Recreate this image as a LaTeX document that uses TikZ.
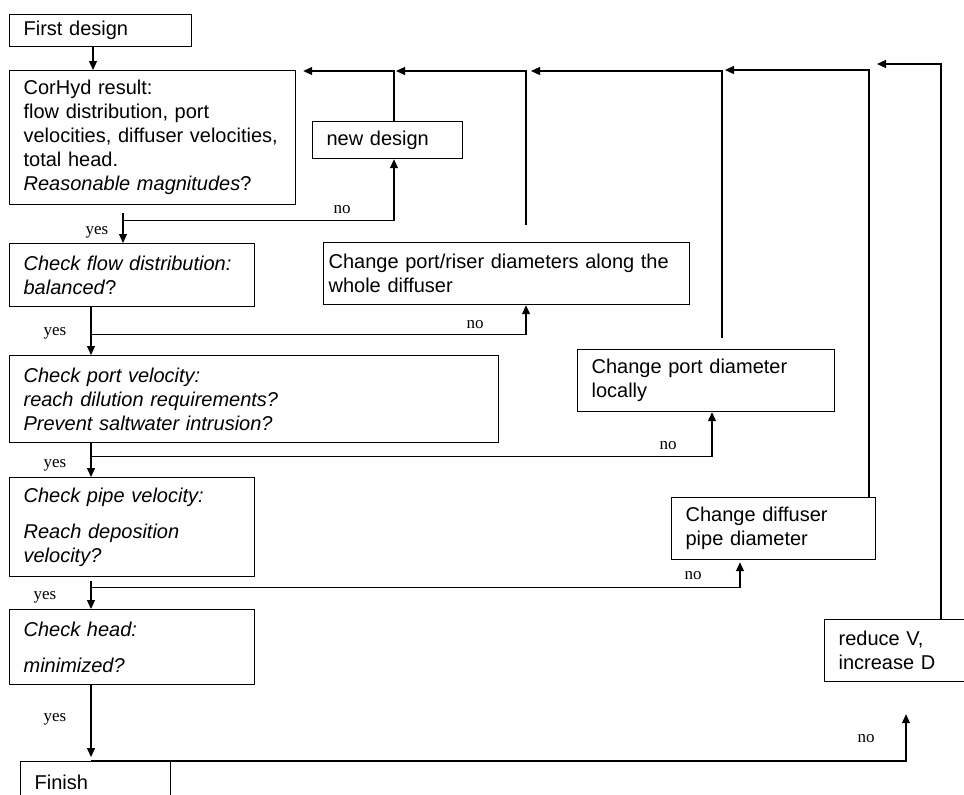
\documentclass[tikz,border=0pt]{standalone}
\usepackage{fontspec}
\setmainfont{Liberation Sans}
\newfontfamily\answerfont{Liberation Serif}
\usetikzlibrary{arrows.meta, calc}
\hyphenpenalty=10000
\tikzstyle{process} = [rectangle, anchor=north west, draw=black, line width=0.6pt, align=left, inner xsep=7pt, inner ysep=0pt, font=\fontsize{10}{12}\selectfont]
\tikzstyle{answer} = [inner sep=0pt, font=\answerfont\fontsize{8.5}{9}\selectfont]
\tikzstyle{line} = [draw=black, line width=0.6pt]
\tikzstyle{arrow} = [line, -{Triangle[length=4.5pt,width=4pt]}]

\begin{document}
\begin{tikzpicture}[x=0.5pt, y=-0.5pt]
\useasboundingbox (0,0) rectangle (964,794);
% boxes
\node (first) [process, text width=77pt, minimum height=16pt] at (9,14) {First design};
\node (corhyd) [process, text width=129pt, minimum height=67pt] at (9,70) {CorHyd result:\\ flow distribution, port\\ velocities, diffuser velocities,\\ total head.\\ \textit{Reasonable magnitudes}?};
\node (newdes) [process, text width=61pt, minimum height=18.5pt] at (312,121) {new design};
\node (flow) [process, text width=108.5pt, minimum height=31.5pt] at (9,243) {\textit{Check flow distribution:}\\ \textit{balanced}?};
\node (riser) [process, text width=178pt, inner xsep=2.5pt, minimum height=31pt] at (323,242) {Change port/riser diameters along the\\ whole diffuser};
\node (port) [process, text width=230.5pt, minimum height=43.5pt] at (9,355) {\textit{Check port velocity:}\\ \textit{reach dilution requirements?}\\ \textit{Prevent saltwater intrusion?}};
\node (local) [process, text width=114.5pt, minimum height=31pt] at (577,349) {Change port diameter\\ locally};
\node (pipe) [process, text width=108.5pt, minimum height=49.5pt] at (9,477) {\textit{Check pipe velocity:}\\[6pt] \textit{Reach deposition}\\ \textit{velocity?}};
\node (diff) [process, text width=88pt, minimum height=31pt] at (671,497) {Change diffuser\\ pipe diameter};
\node (head) [process, text width=108.5pt, minimum height=37.5pt] at (9,609) {\textit{Check head:}\\[6pt] \textit{minimized?}};
\node (reduce) [process, text width=66pt, minimum height=31pt] at (824,619) {reduce V,\\ increase D};
\node (finish) [process, text width=61pt, minimum height=21pt] at (20,761) {Finish};

% main flow
\draw[arrow] ($(first.south west)+(84,0)$) -- ($(corhyd.north west)+(84,0)$);
\draw[arrow] ($(corhyd.south west)+(114,8)$) -- ($(flow.north west)+(114,0)$);
\draw[arrow] ($(flow.south west)+(82,0)$) -- ($(port.north west)+(82,0)$);
\draw[arrow] ($(port.south west)+(82,0)$) -- ($(pipe.north west)+(82,0)$);
\draw[arrow] ($(pipe.south west)+(82,4)$) -- ($(head.north west)+(82,0)$);
\draw[arrow] ($(head.south west)+(82,0)$) -- ($(finish.north west)+(71,-4)$);

% no branches
\draw[arrow] ($(corhyd.south west)+(114,15)$) -| ($(newdes.south west)+(82,0)$);
\draw[arrow] ($(flow.south west)+(82,27)$) -| ($(riser.south west)+(203,0)$);
\draw[arrow] ($(port.south west)+(82,13)$) -| ($(local.south west)+(135,0)$);
\draw[arrow] ($(pipe.south west)+(82,10)$) -| ($(diff.south west)+(69,2)$);
\draw[arrow] ($(finish.north west)+(71,0)$) -| ($(reduce.south west)+(82,32)$);

% feedback to CorHyd
\draw[arrow] ($(newdes.north west)+(82,0)$) |- ($(corhyd.north east)+(7,1)$);
\draw[arrow] ($(riser.north west)+(203,-17)$) |- ($(newdes.north west)+(84,-50)$);
\draw[arrow] ($(local.north west)+(145,-11)$) |- ($(riser.north west)+(208,-171)$);
\draw[arrow] ($(diff.north west)+(198,0)$) |- ($(local.north west)+(148,-279)$);
\draw[arrow] ($(reduce.north west)+(117,0)$) |- ($(diff.north west)+(206,-433)$);

% answers
\node (yes1) [answer] at (97,232) {yes};
\node (no1) [answer] at (342,210) {no};
\node (yes2) [answer] at (55,333) {yes};
\node (no2) [answer] at (475,325) {no};
\node (yes3) [answer] at (55,465) {yes};
\node (no3) [answer] at (668,446) {no};
\node (yes4) [answer] at (45,597) {yes};
\node (no4) [answer] at (693,576) {no};
\node (yes5) [answer] at (55,719) {yes};
\node (no5) [answer] at (866,739) {no};
\end{tikzpicture}
\end{document}
